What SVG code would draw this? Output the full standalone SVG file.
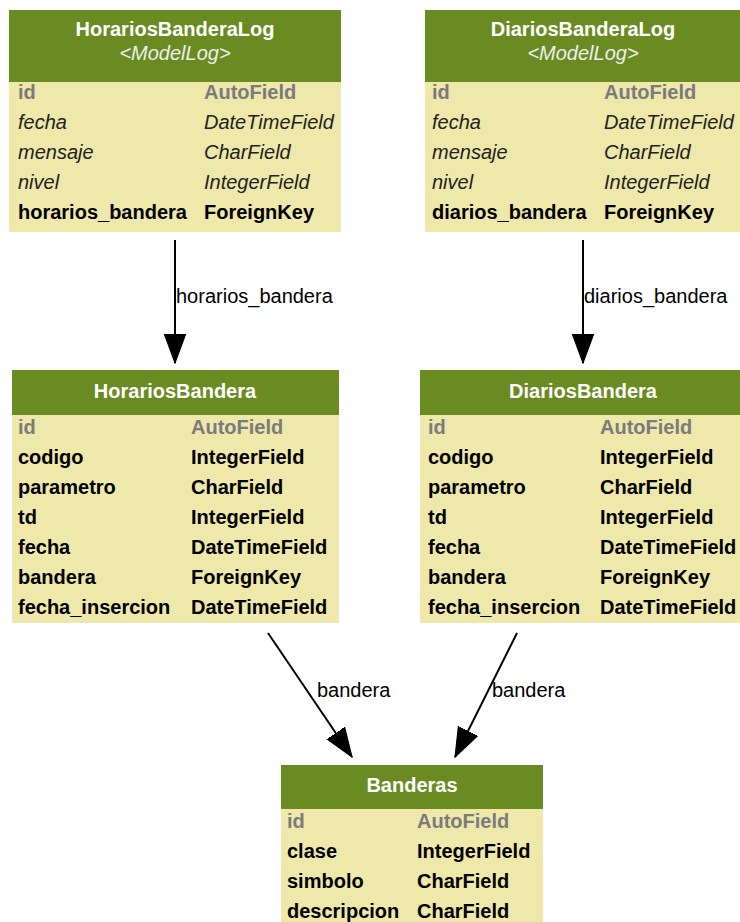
<svg xmlns="http://www.w3.org/2000/svg" width="740" height="922" viewBox="0 0 740 922">
<style>
text{font-family:"Liberation Sans",Arial,sans-serif;font-size:20px}
.hd{fill:#698b22}
.bd{fill:#eee8aa}
.tt{fill:#ffffff;font-weight:bold;text-anchor:middle}
.st{fill:#eeeeee;font-style:italic;text-anchor:middle}
.pk{fill:#7b7b7b;font-weight:bold}
.b{fill:#000;font-weight:bold}
.i{fill:#222;font-style:italic}
.lbl{fill:#000}
.e{stroke:#000;stroke-width:2;fill:none}
</style>
<defs>
<marker id="ah" markerUnits="userSpaceOnUse" markerWidth="30" markerHeight="24" viewBox="0 -11 28 22" refX="27" refY="0" orient="auto">
<path d="M0,-10 L27,0 L0,10 Z" fill="#000" stroke="#000" stroke-width="1"/>
</marker>
</defs>
<rect width="740" height="922" fill="#ffffff"/>
<g id="edges">
<line class="e" x1="175" y1="240" x2="175" y2="363" marker-end="url(#ah)"/>
<text class="lbl" x="176" y="303">horarios_bandera</text>
<line class="e" x1="583" y1="240" x2="583" y2="363" marker-end="url(#ah)"/>
<text class="lbl" x="584" y="303">diarios_bandera</text>
<line class="e" x1="268" y1="633" x2="352" y2="757" marker-end="url(#ah)"/>
<text class="lbl" x="317" y="697">bandera</text>
<line class="e" x1="517" y1="633" x2="455" y2="757" marker-end="url(#ah)"/>
<text class="lbl" x="492" y="697">bandera</text>
</g>
<g id="HorariosBanderaLog">
<rect class="bd" x="9" y="10" width="332" height="222"/>
<rect class="hd" x="9" y="10" width="332" height="72"/>
<text class="tt" x="175" y="36">HorariosBanderaLog</text>
<text class="st" x="175" y="60">&lt;ModelLog&gt;</text>
<text class="pk" x="18" y="99">id</text><text class="pk" x="204" y="99">AutoField</text>
<text class="i" x="18" y="129">fecha</text><text class="i" x="204" y="129">DateTimeField</text>
<text class="i" x="18" y="159">mensaje</text><text class="i" x="204" y="159">CharField</text>
<text class="i" x="18" y="189">nivel</text><text class="i" x="204" y="189">IntegerField</text>
<text class="b" x="18" y="219">horarios_bandera</text><text class="b" x="204" y="219">ForeignKey</text>
</g>
<g id="DiariosBanderaLog">
<rect class="bd" x="425" y="10" width="320" height="222"/>
<rect class="hd" x="425" y="10" width="320" height="72"/>
<text class="tt" x="583" y="36">DiariosBanderaLog</text>
<text class="st" x="583" y="60">&lt;ModelLog&gt;</text>
<text class="pk" x="432" y="99">id</text><text class="pk" x="604" y="99">AutoField</text>
<text class="i" x="432" y="129">fecha</text><text class="i" x="604" y="129">DateTimeField</text>
<text class="i" x="432" y="159">mensaje</text><text class="i" x="604" y="159">CharField</text>
<text class="i" x="432" y="189">nivel</text><text class="i" x="604" y="189">IntegerField</text>
<text class="b" x="432" y="219">diarios_bandera</text><text class="b" x="604" y="219">ForeignKey</text>
</g>
<g id="HorariosBandera">
<rect class="bd" x="12" y="370" width="327" height="253"/>
<rect class="hd" x="12" y="370" width="327" height="45"/>
<text class="tt" x="175" y="398">HorariosBandera</text>
<text class="pk" x="18" y="434">id</text><text class="pk" x="191" y="434">AutoField</text>
<text class="b" x="18" y="464">codigo</text><text class="b" x="191" y="464">IntegerField</text>
<text class="b" x="18" y="494">parametro</text><text class="b" x="191" y="494">CharField</text>
<text class="b" x="18" y="524">td</text><text class="b" x="191" y="524">IntegerField</text>
<text class="b" x="18" y="554">fecha</text><text class="b" x="191" y="554">DateTimeField</text>
<text class="b" x="18" y="584">bandera</text><text class="b" x="191" y="584">ForeignKey</text>
<text class="b" x="18" y="614">fecha_insercion</text><text class="b" x="191" y="614">DateTimeField</text>
</g>
<g id="DiariosBandera">
<rect class="bd" x="420" y="370" width="325" height="253"/>
<rect class="hd" x="420" y="370" width="325" height="45"/>
<text class="tt" x="583" y="398">DiariosBandera</text>
<text class="pk" x="428" y="434">id</text><text class="pk" x="600" y="434">AutoField</text>
<text class="b" x="428" y="464">codigo</text><text class="b" x="600" y="464">IntegerField</text>
<text class="b" x="428" y="494">parametro</text><text class="b" x="600" y="494">CharField</text>
<text class="b" x="428" y="524">td</text><text class="b" x="600" y="524">IntegerField</text>
<text class="b" x="428" y="554">fecha</text><text class="b" x="600" y="554">DateTimeField</text>
<text class="b" x="428" y="584">bandera</text><text class="b" x="600" y="584">ForeignKey</text>
<text class="b" x="428" y="614">fecha_insercion</text><text class="b" x="600" y="614">DateTimeField</text>
</g>
<g id="Banderas">
<rect class="bd" x="281" y="765" width="262" height="165"/>
<rect class="hd" x="281" y="765" width="262" height="44"/>
<text class="tt" x="412" y="792">Banderas</text>
<text class="pk" x="287" y="828">id</text><text class="pk" x="417" y="828">AutoField</text>
<text class="b" x="287" y="858">clase</text><text class="b" x="417" y="858">IntegerField</text>
<text class="b" x="287" y="888">simbolo</text><text class="b" x="417" y="888">CharField</text>
<text class="b" x="287" y="918">descripcion</text><text class="b" x="417" y="918">CharField</text>
</g>
</svg>
